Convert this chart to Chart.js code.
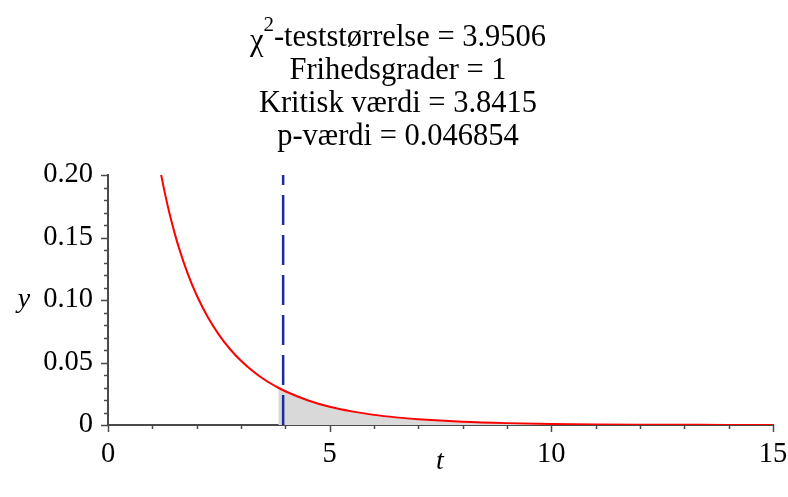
<!DOCTYPE html>
<html>
<head>
<meta charset="utf-8">
<script src="https://cdn.jsdelivr.net/npm/chart.js@4"></script>
<style>
  html, body { margin: 0; padding: 0; background: #fff; }
  #wrap { width: 788px; height: 497px; }
</style>
</head>
<body>
<div id="wrap"><canvas id="c" width="788" height="497"></canvas></div>
<script>
// chi^2 fordeling, 1 frihedsgrad
const tValues = [1.15, 1.2, 1.3, 1.4, 1.5, 1.6, 1.8, 2, 2.25, 2.5, 2.75, 3, 3.25, 3.5, 3.8415,
                 4, 4.5, 5, 5.5, 6, 6.5, 7, 8, 9, 10, 11, 12, 13, 14, 15];
const yValues = [0.2093, 0.1999, 0.1827, 0.1674, 0.1539, 0.1417, 0.1209, 0.1038, 0.0864, 0.0723,
                 0.0608, 0.0514, 0.0436, 0.0370, 0.0298, 0.0270, 0.0198, 0.0146, 0.0109, 0.0081,
                 0.0061, 0.0046, 0.0026, 0.0015, 0.00085, 0.00049, 0.00029, 0.00017, 0.0001, 0.00006];

const testValue = 3.9506;
const criticalValue = 3.8415;
const titleLines = ['-teststørrelse = 3.9506', 'Frihedsgrader = 1', 'Kritisk værdi = 3.8415', 'p-værdi = 0.046854'];
const xLabelTicks = [0, 5, 10, 15];
const yLabelTicks = [0, 0.05, 0.10, 0.15, 0.20];

const SERIF = '"Liberation Serif", "DejaVu Serif", serif';
const AXIS_COLOR = '#4a4a4a';

const curvePts = tValues.map((t, i) => ({ x: t, y: yValues[i] }));
const shadePts = curvePts.filter(p => p.x >= criticalValue);

// Titel, aksenavne og tickmærker
const decor = {
  id: 'decor',
  afterDraw(chart) {
    const ctx = chart.ctx;
    const xs = chart.scales.x, ys = chart.scales.y;
    ctx.save();

    // tickmærker (udad)
    ctx.strokeStyle = AXIS_COLOR;
    ctx.lineWidth = 1.5;
    for (let v = 0; v <= 15; v++) {
      const px = Math.round(xs.getPixelForValue(v)) + 0.5;
      const len = v % 5 === 0 ? 7 : 4;
      ctx.beginPath();
      ctx.moveTo(px, ys.bottom);
      ctx.lineTo(px, ys.bottom + len);
      ctx.stroke();
    }
    for (let k = 0; k <= 20; k++) {
      const py = Math.round(ys.getPixelForValue(k / 100)) + 0.5;
      const len = k % 5 === 0 ? 7 : 4;
      ctx.beginPath();
      ctx.moveTo(xs.left, py);
      ctx.lineTo(xs.left - len, py);
      ctx.stroke();
    }

    // titel
    ctx.fillStyle = '#000';
    ctx.textBaseline = 'middle';
    const cx = 398;
    const ys0 = [38, 71, 104, 137];
    const tf = '30.5px ' + SERIF;
    ctx.font = tf;
    const chiW = ctx.measureText('χ').width;
    ctx.font = '21px ' + SERIF;
    const supW = ctx.measureText('2').width;
    ctx.font = tf;
    const restW = ctx.measureText(titleLines[0]).width;
    let x0 = cx - (chiW + supW + restW) / 2;
    ctx.textAlign = 'left';
    ctx.fillText('χ', x0, ys0[0] + 4);
    ctx.font = '21px ' + SERIF;
    ctx.fillText('2', x0 + chiW, ys0[0] - 13);
    ctx.font = tf;
    ctx.fillText(titleLines[0], x0 + chiW + supW, ys0[0]);
    ctx.textAlign = 'center';
    for (let i = 1; i < titleLines.length; i++) {
      ctx.fillText(titleLines[i], cx, ys0[i]);
    }

    // aksenavne
    ctx.font = 'italic 28px ' + SERIF;
    ctx.fillText('y', 24, 300);
    ctx.fillText('t', 440, 462);
    ctx.restore();
  }
};

new Chart(document.getElementById('c'), {
  type: 'line',
  data: {
    datasets: [
      {
        data: shadePts,
        borderWidth: 0,
        pointRadius: 0,
        fill: 'origin',
        backgroundColor: '#d9d9d9',
        tension: 0.4,
        cubicInterpolationMode: 'monotone',
        order: 3,
      },
      {
        data: curvePts,
        borderColor: '#ff0000',
        borderWidth: 2,
        pointRadius: 0,
        fill: false,
        tension: 0.4,
        cubicInterpolationMode: 'monotone',
        order: 2,
      },
      {
        data: [{ x: testValue, y: 0 }, { x: testValue, y: 0.2 }],
        borderColor: '#1c2a9c',
        borderWidth: 2.5,
        borderDash: [30, 10],
        pointRadius: 0,
        fill: false,
        order: 1,
      },
    ],
  },
  options: {
    responsive: false,
    animation: false,
    events: [],
    layout: { padding: { top: 175, right: 15, left: 0, bottom: 0 } },
    plugins: { legend: { display: false }, tooltip: { enabled: false }, title: { display: false } },
    scales: {
      x: {
        type: 'linear',
        min: 0, max: 15,
        grid: { display: false, drawTicks: false },
        border: { display: true, color: AXIS_COLOR, width: 2 },
        ticks: {
          stepSize: 1,
          autoSkip: false,
          maxRotation: 0,
          padding: 12,
          color: '#000',
          font: { family: SERIF, size: 28.5 },
          callback: v => xLabelTicks.includes(v) ? String(v) : '',
        },
        afterFit: s => { s.height = 72; s.paddingLeft = 0; s.paddingRight = 0; },
      },
      y: {
        min: 0, max: 0.2,
        grid: { display: false, drawTicks: false },
        border: { display: true, color: AXIS_COLOR, width: 2 },
        ticks: {
          stepSize: 0.01,
          autoSkip: false,
          padding: 15,
          color: '#000',
          font: { family: SERIF, size: 28.5 },
          callback: v => {
            const k = Math.round(v * 100);
            if (k % 5 !== 0) return '';
            const lab = yLabelTicks.find(t => Math.round(t * 100) === k);
            return lab === 0 ? '0' : lab.toFixed(2);
          },
        },
        afterFit: s => { s.width = 108; s.paddingTop = 0; s.paddingBottom = 0; },
      },
    },
  },
  plugins: [decor],
});
</script>
</body>
</html>
